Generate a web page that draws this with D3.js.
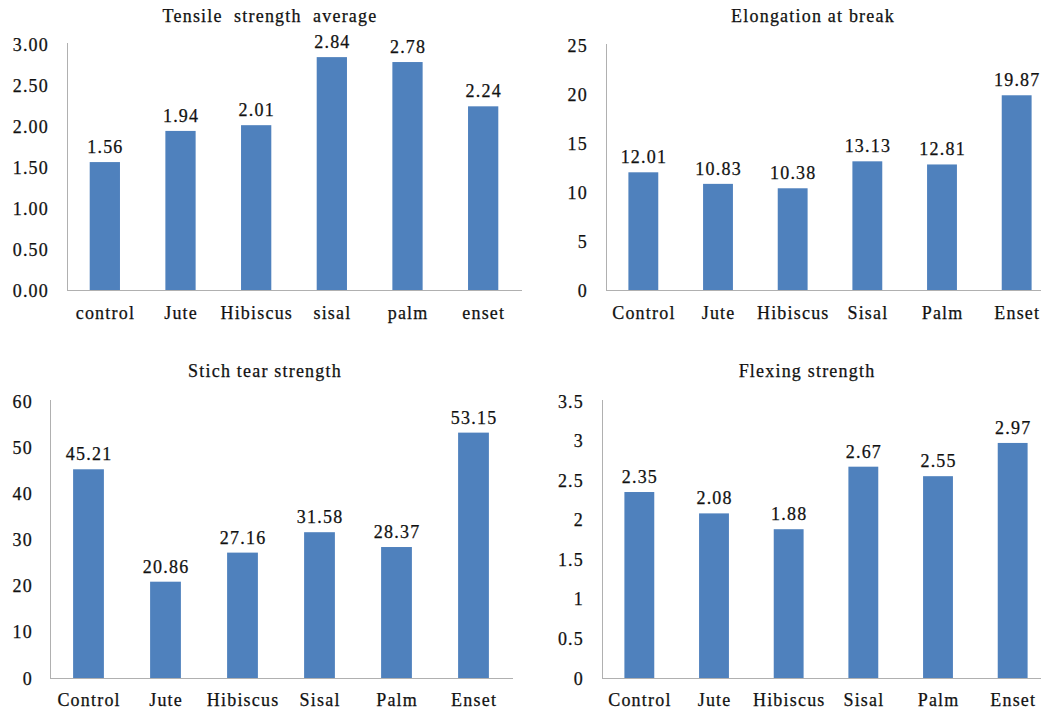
<!DOCTYPE html>
<html>
<head>
<meta charset="utf-8">
<script src="https://cdn.jsdelivr.net/npm/d3@7"></script>
</head>
<body style="margin:0;padding:0;background:#fff;">
<svg id="chart" width="1041" height="713" style="display:block;"></svg>
<script>
// ---- data ----
const categoriesLower = ["control", "Jute", "Hibiscus", "sisal", "palm", "enset"];
const categoriesUpper = ["Control", "Jute", "Hibiscus", "Sisal", "Palm", "Enset"];

const tensileValues = [1.56, 1.94, 2.01, 2.84, 2.78, 2.24];
const elongationValues = [12.01, 10.83, 10.38, 13.13, 12.81, 19.87];
const stitchValues = [45.21, 20.86, 27.16, 31.58, 28.37, 53.15];
const flexingValues = [2.35, 2.08, 1.88, 2.67, 2.55, 2.97];

const tensileTicks = [0, 0.5, 1, 1.5, 2, 2.5, 3];
const elongationTicks = [0, 5, 10, 15, 20, 25];
const stitchTicks = [0, 10, 20, 30, 40, 50, 60];
const flexingTicks = [0, 0.5, 1, 1.5, 2, 2.5, 3, 3.5];

const titles = ["Tensile  strength  average", "Elongation at break", "Stich tear strength", "Flexing strength"];

// ---- layout ----
const panels = [
  { title: titles[0], cats: categoriesLower, vals: tensileValues, ticks: tensileTicks, fmt: d3.format(".2f"),
    x0: 67, x1: 521, lineEnd: 522, yTop: 44, yBot: 290, tickX: 49, titleX: 270, titleY: 22, catY: 319 },
  { title: titles[1], cats: categoriesUpper, vals: elongationValues, ticks: elongationTicks, fmt: d3.format("d"),
    x0: 606, x1: 1054, lineEnd: 1054, yTop: 45, yBot: 290, tickX: 588, titleX: 813, titleY: 22, catY: 319 },
  { title: titles[2], cats: categoriesUpper, vals: stitchValues, ticks: stitchTicks, fmt: d3.format("d"),
    x0: 50, x1: 512, lineEnd: 513, yTop: 401, yBot: 678, tickX: 33, titleX: 265, titleY: 377, catY: 706 },
  { title: titles[3], cats: categoriesUpper, vals: flexingValues, ticks: flexingTicks, fmt: d3.format("~g"),
    x0: 602, x1: 1050, lineEnd: 1050, yTop: 401, yBot: 678, tickX: 584, titleX: 807, titleY: 377, catY: 706 }
];

const svg = d3.select("#chart");
const barColor = "#4f81bd";
const axisColor = "#b0b0b0";
const textColor = "#111111";
const fontFamily = '"Liberation Serif"';
const fontSize = 18;
const ls = 1.2;

function styleText(sel) {
  return sel
    .style("font-family", fontFamily)
    .style("font-size", fontSize + "px")
    .style("letter-spacing", ls + "px")
    .style("fill", textColor)
    .style("stroke", textColor)
    .style("stroke-width", "0.25px");
}

panels.forEach(p => {
  const g = svg.append("g");
  const x = d3.scaleBand().domain(p.cats).range([p.x0, p.x1]).paddingInner(0.6).paddingOuter(0.3);
  const y = d3.scaleLinear().domain([p.ticks[0], p.ticks[p.ticks.length - 1]]).range([p.yBot, p.yTop]);

  // title
  g.append("text")
    .attr("x", p.titleX).attr("y", p.titleY)
    .attr("text-anchor", "middle")
    .style("white-space", "pre")
    .call(styleText)
    .text(p.title);

  // y axis labels via d3 axis
  const yAxis = d3.axisLeft(y).tickValues(p.ticks).tickFormat(p.fmt).tickSize(0).tickPadding(0);
  const ya = g.append("g").attr("transform", `translate(${p.tickX},0)`).call(yAxis);
  ya.attr("font-family", null).attr("font-size", null);
  ya.select(".domain").remove();
  ya.selectAll("text")
    .attr("x", 0)
    .attr("dy", "0.34em")
    .attr("fill", null)
    .call(styleText);

  // y axis line
  g.append("line")
    .attr("x1", p.x0 + 0.5).attr("x2", p.x0 + 0.5)
    .attr("y1", y.range()[1] - 1).attr("y2", p.yBot)
    .attr("stroke", axisColor).attr("stroke-width", 1);

  // bars
  g.selectAll("rect.bar").data(p.vals).join("rect")
    .attr("class", "bar")
    .attr("x", (d, i) => x(p.cats[i]))
    .attr("width", x.bandwidth())
    .attr("y", d => y(d))
    .attr("height", d => y(0) - y(d))
    .attr("fill", barColor);

  // x baseline
  g.append("line")
    .attr("x1", p.x0).attr("x2", p.lineEnd)
    .attr("y1", p.yBot + 0.5).attr("y2", p.yBot + 0.5)
    .attr("stroke", axisColor).attr("stroke-width", 1);

  // value labels
  g.selectAll("text.val").data(p.vals).join("text")
    .attr("class", "val")
    .attr("x", (d, i) => x(p.cats[i]) + x.bandwidth() / 2 + ls / 2)
    .attr("y", d => y(d) - 9)
    .attr("text-anchor", "middle")
    .call(styleText)
    .text(d => d3.format(".2f")(d));

  // category labels
  g.selectAll("text.cat").data(p.cats).join("text")
    .attr("class", "cat")
    .attr("x", d => x(d) + x.bandwidth() / 2 + ls / 2)
    .attr("y", p.catY)
    .attr("text-anchor", "middle")
    .call(styleText)
    .text(d => d);
});
</script>
</body>
</html>
